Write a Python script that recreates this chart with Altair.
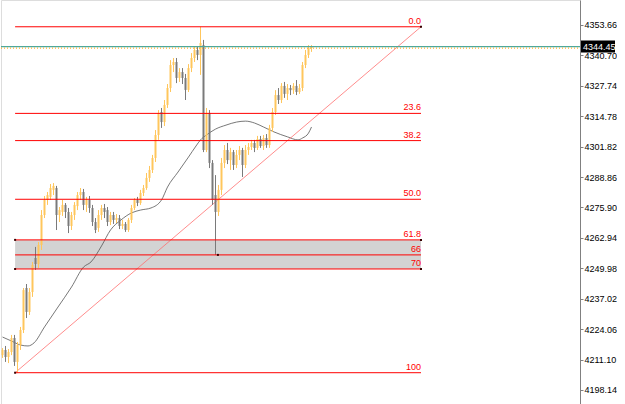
import altair as alt
import pandas as pd

# ---- candle data (one candle per bar index) ----
opens = [4213.0, 4215.2, 4212.2, 4214.3, 4220.3, 4210.1, 4217.3, 4223.7, 4241.6, 4231.4,
         4239.9, 4254.4, 4251.8, 4259.9, 4272.7, 4279.1, 4280.4, 4283.4, 4284.2, 4272.7,
         4274.0, 4277.0, 4274.0, 4268.0, 4272.7, 4276.5, 4281.2, 4282.5, 4277.0, 4279.1,
         4275.7, 4269.7, 4267.2, 4272.7, 4275.7, 4274.8, 4269.7, 4272.7, 4270.6, 4271.4,
         4268.0, 4268.9, 4266.3, 4270.6, 4275.7, 4279.1, 4277.8, 4282.1, 4284.2, 4288.5,
         4291.9, 4297.0, 4306.8, 4316.6, 4312.3, 4319.6, 4326.8, 4336.6, 4337.9, 4331.1,
         4333.6, 4331.1, 4326.0, 4335.3, 4339.6, 4343.0, 4340.9, 4345.1, 4300.4, 4316.2,
         4294.9, 4281.2, 4274.0, 4283.4, 4294.9, 4300.4, 4296.1, 4299.5, 4294.0, 4298.3,
         4300.4, 4294.0, 4300.4, 4301.7, 4303.4, 4301.3, 4305.1, 4302.1, 4305.5, 4302.5,
         4309.8, 4316.6, 4323.8, 4321.7, 4327.7, 4324.3, 4326.8, 4325.9, 4327.7, 4325.1,
         4326.8, 4336.6, 4340.9, 4343.9]
highs = [4216.0, 4216.9, 4215.6, 4221.6, 4221.6, 4218.6, 4225.0, 4241.6, 4243.3, 4241.6,
         4252.7, 4259.1, 4261.2, 4274.8, 4280.8, 4282.5, 4285.9, 4286.3, 4285.1, 4276.1,
         4279.1, 4277.8, 4275.7, 4274.0, 4278.2, 4282.5, 4284.2, 4283.8, 4280.4, 4280.8,
         4277.0, 4271.4, 4274.8, 4277.0, 4277.4, 4276.1, 4274.0, 4274.0, 4273.1, 4272.7,
         4270.6, 4269.7, 4271.4, 4277.0, 4279.9, 4280.4, 4283.4, 4285.5, 4290.6, 4293.6,
         4298.3, 4308.9, 4317.4, 4318.3, 4321.7, 4328.5, 4338.7, 4339.6, 4339.6, 4335.3,
         4335.3, 4332.8, 4337.0, 4341.7, 4344.3, 4344.7, 4352.9, 4347.3, 4318.3, 4317.4,
         4296.1, 4289.7, 4285.5, 4297.0, 4302.5, 4303.4, 4301.3, 4300.4, 4300.4, 4302.1,
         4301.3, 4302.5, 4303.4, 4304.7, 4304.7, 4306.4, 4306.4, 4306.8, 4307.2, 4311.1,
         4318.3, 4325.9, 4326.8, 4328.9, 4329.4, 4328.5, 4328.1, 4328.9, 4330.2, 4328.5,
         4337.9, 4343.0, 4345.1, 4345.1]
lows = [4211.8, 4210.1, 4209.6, 4213.0, 4208.4, 4205.5, 4215.2, 4222.4, 4228.8, 4230.1,
        4237.8, 4249.3, 4250.1, 4257.8, 4271.4, 4277.0, 4279.1, 4281.2, 4266.3, 4269.7,
        4272.3, 4271.4, 4265.0, 4266.3, 4270.6, 4274.8, 4279.1, 4274.8, 4274.0, 4273.6,
        4268.0, 4265.0, 4265.5, 4270.6, 4271.4, 4268.0, 4268.4, 4268.9, 4269.3, 4266.7,
        4266.7, 4265.5, 4265.5, 4269.3, 4274.8, 4276.5, 4277.0, 4280.8, 4283.4, 4286.8,
        4290.6, 4295.3, 4304.7, 4309.8, 4310.6, 4318.3, 4325.1, 4333.6, 4328.9, 4329.4,
        4328.5, 4321.7, 4325.1, 4333.6, 4337.9, 4338.7, 4332.4, 4299.5, 4299.5, 4292.7,
        4277.0, 4255.7, 4272.3, 4281.2, 4292.7, 4294.4, 4291.9, 4291.9, 4292.7, 4296.1,
        4288.9, 4292.7, 4298.3, 4300.4, 4299.5, 4300.4, 4301.3, 4300.4, 4301.3, 4301.3,
        4308.1, 4315.3, 4320.0, 4320.4, 4322.6, 4321.7, 4323.8, 4324.3, 4323.8, 4324.3,
        4325.5, 4335.3, 4339.6, 4342.2]
closes = [4215.2, 4212.2, 4214.3, 4220.3, 4210.1, 4217.3, 4223.7, 4240.7, 4231.4, 4239.9,
          4251.4, 4251.8, 4259.9, 4272.7, 4279.1, 4281.2, 4284.2, 4285.1, 4272.7, 4274.8,
          4277.0, 4274.0, 4268.0, 4272.7, 4277.0, 4281.2, 4282.5, 4277.0, 4279.1, 4275.7,
          4269.7, 4266.3, 4272.7, 4275.7, 4274.0, 4269.7, 4272.7, 4270.6, 4271.4, 4268.0,
          4268.9, 4266.3, 4270.6, 4275.7, 4279.1, 4277.8, 4282.1, 4284.2, 4288.5, 4291.9,
          4297.0, 4306.8, 4316.2, 4312.3, 4319.6, 4326.8, 4336.6, 4337.9, 4331.1, 4333.6,
          4331.1, 4326.0, 4335.3, 4339.6, 4343.0, 4340.9, 4346.0, 4300.4, 4316.2, 4294.9,
          4279.1, 4274.0, 4283.4, 4294.9, 4300.4, 4296.1, 4299.5, 4294.0, 4298.3, 4300.4,
          4294.0, 4300.4, 4301.7, 4303.4, 4301.3, 4305.1, 4302.1, 4305.5, 4302.5, 4309.8,
          4316.6, 4323.8, 4321.7, 4327.7, 4324.3, 4326.8, 4325.9, 4327.7, 4325.1, 4326.8,
          4336.6, 4340.9, 4343.9, 4344.45]

# ---- moving average ----
ma_idx = [0, 3, 6, 8.5, 10.5, 14, 18.5, 23, 27, 29.5, 33, 36, 39.5, 43, 46, 49.5, 53, 55,
          58.5, 62, 64.5, 66, 68, 71, 74.5, 78, 81, 84, 87, 90.5, 95, 98.5, 100, 102, 103]
ma_val = [4220.7, 4219.0, 4217.3, 4216.9, 4218.2, 4225.0, 4233.5, 4242.0, 4250.5, 4252.7,
          4259.5, 4266.3, 4270.6, 4273.6, 4274.8, 4275.7, 4279.1, 4284.6, 4291.0, 4297.4,
          4302.1, 4304.7, 4306.8, 4309.3, 4311.0, 4312.3, 4312.7, 4311.9, 4310.2, 4308.1,
          4306.0, 4304.7, 4305.5, 4307.6, 4310.2]

# ---- Fibonacci tool ----
fib_labels = ["0.0", "23.6", "38.2", "50.0", "61.8", "66", "70", "100"]
fib_prices = [4352.9, 4316.0, 4304.4, 4279.4, 4262.1, 4255.7, 4249.7, 4205.5]
fib_start = 4.2
fib_end = 139.5
zone_top = 4262.1
zone_bottom = 4249.7
handle_idx = [4.2, 139.5, 4.2, 139.5, 4.2, 139.5, 71.8]
handle_val = [4205.5, 4352.9, 4262.1, 4262.1, 4249.7, 4249.7, 4255.7]

last_price = 4344.45
ask_price = 4343.8
y_ticks = [4198.14, 4211.10, 4224.06, 4237.02, 4249.98, 4262.94, 4275.90,
           4288.86, 4301.82, 4314.78, 4327.74, 4340.70, 4353.66]

X_DOMAIN = [-0.5, 192.5]
Y_DOMAIN = [4192.17, 4364.31]
FONT = "Liberation Sans"

candles = pd.DataFrame({
    "i": list(range(len(opens))),
    "open": opens, "high": highs, "low": lows, "close": closes,
})
candles["dir"] = ["up" if c >= o else "down" for o, c in zip(opens, closes)]

xs = alt.Scale(domain=X_DOMAIN, nice=False, zero=False, padding=0)
ys = alt.Scale(domain=Y_DOMAIN, nice=False, zero=False, padding=0)
yaxis = alt.Axis(values=y_ticks, format=".2f", orient="right", grid=False, title=None,
                 labelFont=FONT, labelFontSize=9, labelColor="#000000",
                 domainColor="#808080", tickColor="#808080", tickSize=3,
                 labelPadding=1, labelBound=False, labelOverlap=False, labelFlush=False)


def X(f):
    return alt.X(f, type="quantitative", scale=xs, axis=None)


def Y(f):
    return alt.Y(f, type="quantitative", scale=ys, axis=yaxis)


zone_df = pd.DataFrame({"x": [fib_start], "x2": [fib_end], "y": [zone_top], "y2": [zone_bottom]})
zone = alt.Chart(zone_df).mark_rect(color="#d3d3d3").encode(
    x=X("x"), x2="x2", y=Y("y"), y2="y2")

ma_df = pd.DataFrame({"i": ma_idx, "v": ma_val})
ma = alt.Chart(ma_df).mark_line(color="#555555", strokeWidth=0.8, interpolate="monotone").encode(
    x=X("i"), y=Y("v"))

trend_df = pd.DataFrame({"i": [fib_start, fib_end], "v": [fib_prices[-1], fib_prices[0]]})
trend = alt.Chart(trend_df).mark_line(color="#ff7070", strokeWidth=0.8).encode(
    x=X("i"), y=Y("v"))

col = alt.Color("dir:N", scale=alt.Scale(domain=["up", "down"], range=["#ffa500", "#000000"]), legend=None)
wcol = alt.Color("dir:N", scale=alt.Scale(domain=["up", "down"], range=["#ffc65c", "#7a7a7a"]), legend=None)

wicks = alt.Chart(candles).mark_rule(strokeWidth=1).encode(
    x=X("i"), y=Y("low"), y2="high", color=wcol)
bodies = alt.Chart(candles).mark_bar(size=2).encode(
    x=X("i"), y=Y("open"), y2="close", color=col)

fib_df = pd.DataFrame({"lab": fib_labels, "p": fib_prices, "x": fib_start, "x2": fib_end})
fib_lines = alt.Chart(fib_df).mark_rule(color="#ff0000", strokeWidth=1).encode(
    x=X("x"), x2="x2", y=Y("p"))
fib_text = alt.Chart(fib_df).mark_text(align="right", baseline="bottom", dy=-1, color="#ff0000",
                                       font=FONT, fontSize=9).encode(
    x=X("x2"), y=Y("p"), text="lab")

handles_df = pd.DataFrame({"i": handle_idx, "v": handle_val})
handles = alt.Chart(handles_df).mark_square(size=4, color="#3a0000", opacity=1).encode(
    x=X("i"), y=Y("v"))

price_df = pd.DataFrame({"p": [last_price], "a": [ask_price], "lab": [f"{last_price:.2f}"]})
bid_line = alt.Chart(price_df).mark_rule(color="#4fa89a", strokeWidth=1.2).encode(
    x=alt.value(0), x2=alt.value(579), y=Y("p"))
ask_line = alt.Chart(price_df).mark_rule(color="#ffa500", strokeWidth=1, strokeDash=[1, 2]).encode(
    x=alt.value(0), x2=alt.value(579), y=Y("a"))
price_box = alt.Chart(price_df).mark_rect(color="#000000", yOffset=-6, y2Offset=6).encode(
    x=alt.value(580), x2=alt.value(614), y=Y("p"), y2="p")
price_text = alt.Chart(price_df).mark_text(align="left", baseline="middle", color="#ffffff",
                                           font=FONT, fontSize=9).encode(
    x=alt.value(582), y=Y("p"), text="lab")

chart = alt.layer(zone, ma, trend, wicks, bodies, fib_lines, fib_text, handles,
                  bid_line, ask_line, price_box, price_text).properties(
    width=579, height=404, padding=0, autosize=alt.AutoSizeParams(type="pad")
).configure_view(stroke=None).configure(background="#ffffff")

chart.save("out.html", embed_options={"renderer": "svg", "actions": False})
